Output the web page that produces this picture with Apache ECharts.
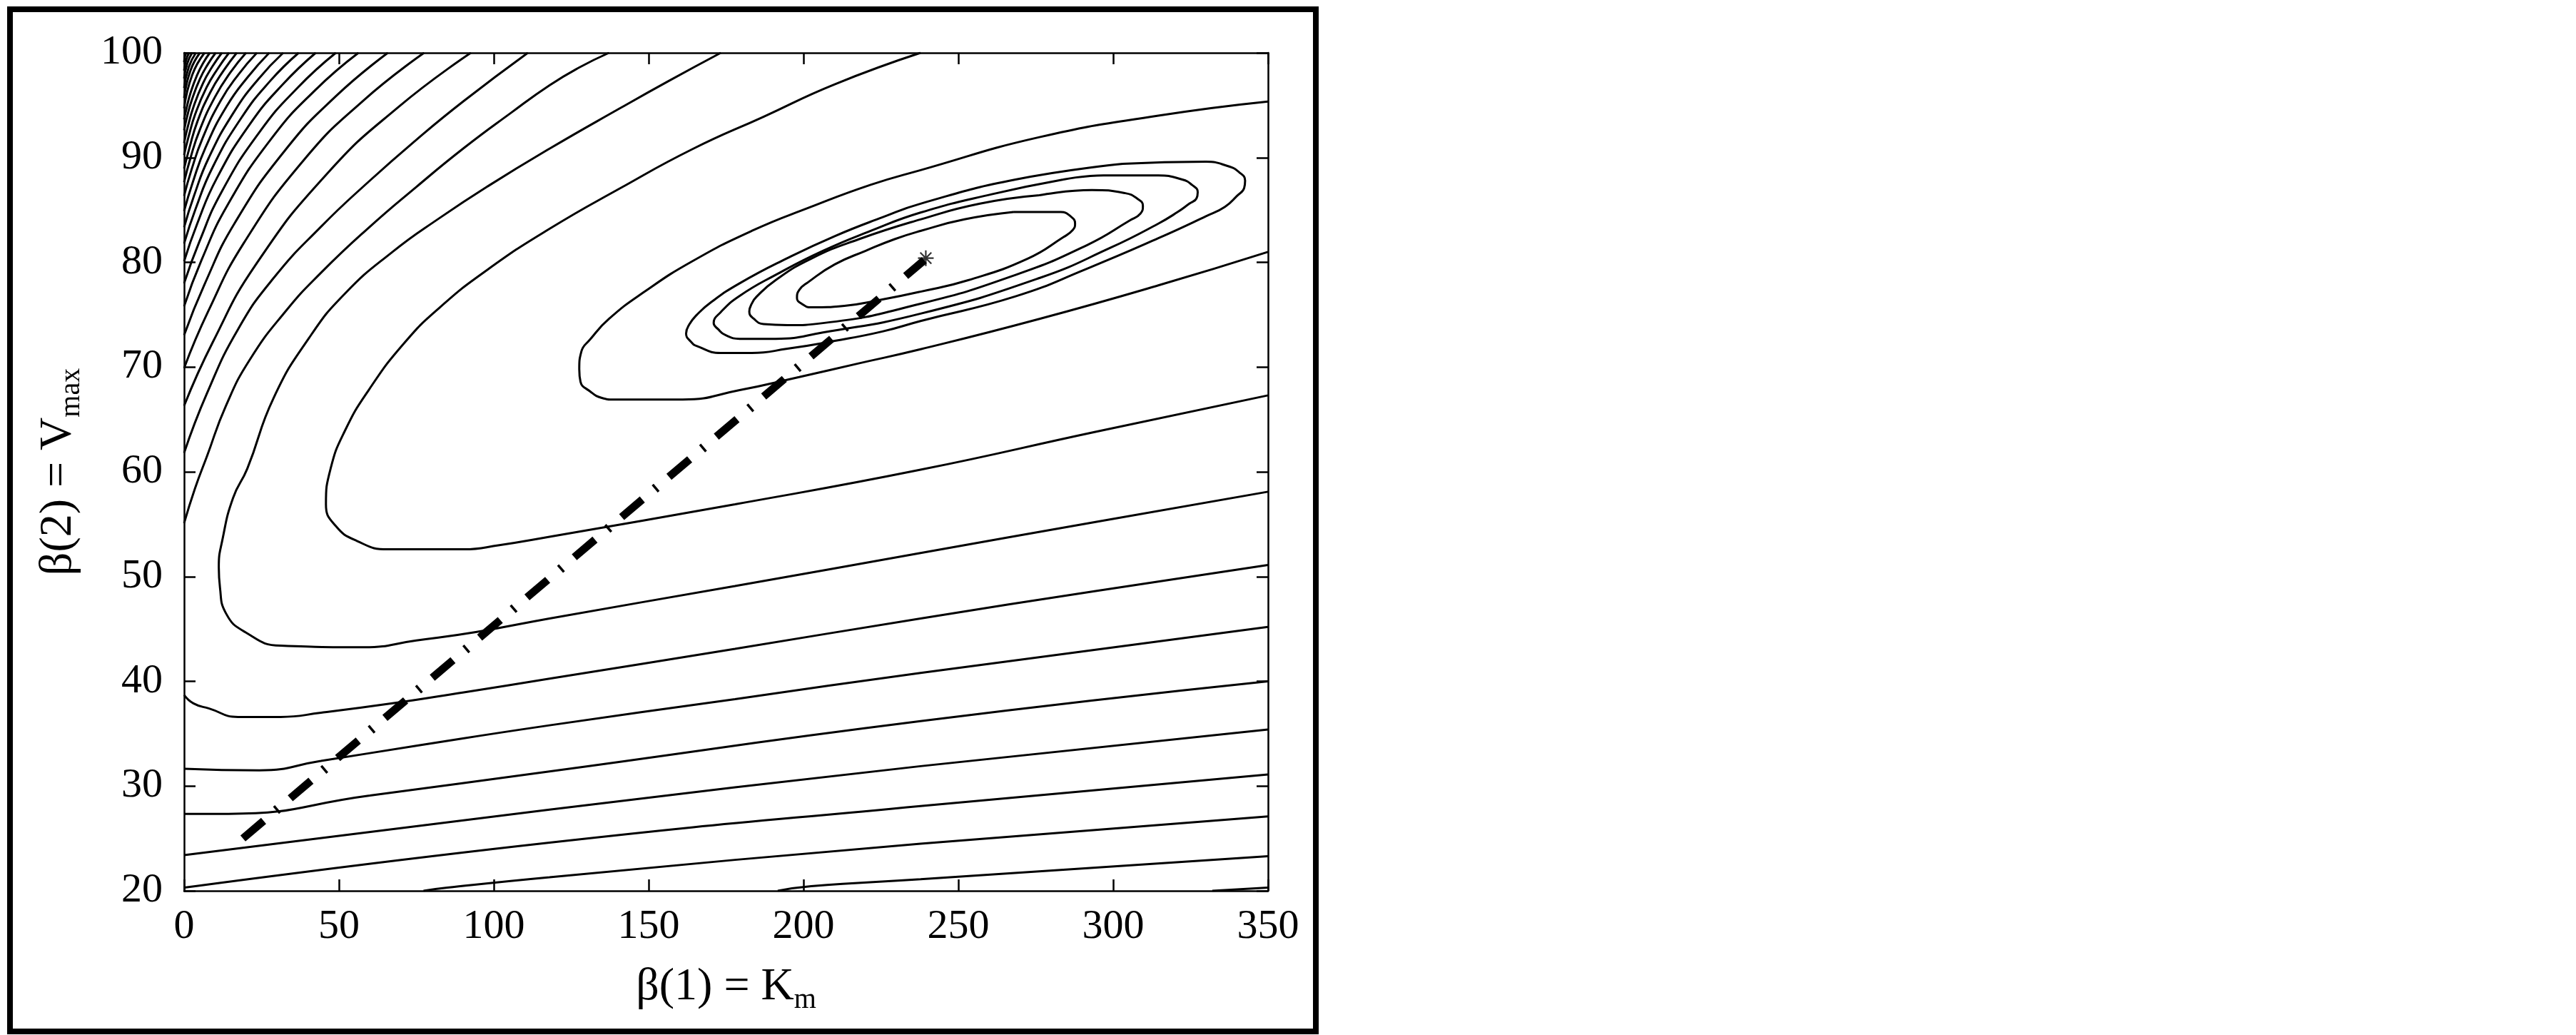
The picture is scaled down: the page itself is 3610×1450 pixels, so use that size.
<!DOCTYPE html>
<html>
<head>
<meta charset="utf-8">
<title>contour</title>
<script src="https://cdn.jsdelivr.net/npm/echarts@6/dist/echarts.min.js"></script>
<style>
    html, body { margin: 0; padding: 0; background: #fff; }
    #chart { width: 3610px; height: 1450px; }
</style>
</head>
<body>
<div id="chart"></div>
<script>
var xRange = [0, 350];
var yRange = [20, 100];
var xStep = 50;
var yStep = 10;

// closed contours round the minimum
var ellipse1 = [[267.8,84.8],[283.1,84.8],[286.2,84.4],[287.7,83.7],[287,83.1],[283.9,82.4],[272.4,80.35],[253.2,78.3],[237.8,77.2],[225.5,76.45],[213.2,75.85],[202.5,75.7],[199.4,76.05],[197.9,76.6],[198.6,77.35],[201.5,78.1],[210.1,79.8],[220.1,81.1],[229.3,82.2],[237.8,83.0],[252,84.1],[267.8,84.8]];
var ellipse2 = [[276.2,86.4],[293.1,86.9],[303.9,86.6],[307.7,86.1],[309.6,85.4],[308.8,84.65],[305.4,84.0],[291.6,81.65],[268.5,78.8],[237.8,76.05],[206.3,74.2],[194.8,74.0],[187.1,74.1],[184,74.6],[182.5,75.3],[183.3,76.05],[184.8,76.7],[191,78.3],[202.5,80.35],[217.8,82.2],[237.8,84.1],[257,85.6],[276.2,86.4]];
var ellipse3 = [[283.9,87.9],[296.9,88.3],[314.6,88.3],[322.3,87.9],[325.4,87.4],[327.3,86.7],[326.9,86.1],[324.6,85.6],[320.8,84.8],[314.6,83.7],[299.2,81.4],[276.2,78.5],[237.8,75.1],[206.3,73.3],[191,72.7],[179.4,72.7],[174.8,73.05],[172.5,73.6],[171,74.2],[173.3,75.25],[179.4,76.8],[191,78.8],[206.3,81.1],[221.7,83.0],[237.8,84.75],[260.8,86.5],[283.9,87.9]];
var ellipse4 = [[303.1,89.4],[330,89.6],[336.9,89.2],[340.7,88.6],[342.6,87.8],[342.3,87.1],[340,86.35],[336.1,85.3],[330,84.4],[314.6,82.3],[291.6,79.4],[268.5,76.75],[237.8,74.4],[225.5,73.4],[210.1,72.5],[194.8,71.75],[183.3,71.35],[173.3,71.35],[165.6,72.0],[163.7,72.4],[162.1,73.2],[163.2,74.1],[165.6,75.0],[170.2,76.2],[179.4,78.0],[194.8,80.4],[210.1,82.5],[225.5,84.3],[237.8,85.6],[268.5,87.9],[303.1,89.4]];

// open contours
var contourA = [[350,95.35],[314.6,94.0],[276.2,91.95],[237.8,88.8],[221.7,87.4],[202.5,85.3],[183.3,83.0],[164.1,80.1],[148.7,77.2],[137.2,74.6],[131,72.6],[128.3,71.5],[127.6,69.8],[128,68.6],[131,67.7],[134.9,67.05],[138.7,66.9],[161,66.9],[179.4,67.8],[198.6,69.05],[217.8,70.35],[237.8,71.7],[276.2,74.6],[314.6,77.8],[350,81.0]];
var contourB = [[237.8,100],[210.1,97.0],[187.1,93.9],[164.1,90.8],[141,87.1],[118,83.2],[98,79.3],[82.6,75.7],[71.1,72.3],[59.6,67.8],[51.9,63.9],[47.3,60.3],[45.8,56.9],[48.9,54.85],[55.8,53.4],[65.8,52.6],[90.3,52.6],[101.8,53.0],[118,53.8],[177.9,56.9],[237.8,60.2],[294,63.8],[350,67.3]];
var contourC = [[173.3,100],[156.4,97.3],[141,94.75],[118,90.85],[98,87.25],[82.6,84.25],[67.3,81.0],[51.9,77.0],[40.4,72.8],[28.9,67.05],[20.4,60.3],[15.8,57.5],[12.4,53.55],[11.2,50.9],[11.6,48.9],[13.5,46.5],[19.7,44.7],[31.2,43.4],[58.1,43.25],[75,43.9],[94.2,44.7],[118,46.0],[177.9,49.1],[237.8,52.25],[294,55.2],[350,58.1]];
var contourDUpper = [[0,55.1],[3.5,58.4],[7.4,61.5],[13.5,66.3],[21.2,70.7],[32.7,75.3],[44.2,79.0],[59.6,83.3],[75,87.2],[90.3,90.9],[105.7,94.3],[118,96.9],[127.6,98.6],[137.2,100]];
var contourDLower = [[0,38.7],[3,37.9],[8.1,37.4],[17.4,36.6],[31.2,36.6],[44.2,37.0],[67.3,37.9],[90.3,38.95],[118,40.25],[177.9,43.1],[237.8,46.0],[294,48.6],[350,51.1]];

// near-straight contours in the lower half
var line4 = [[0,31.65],[24.3,31.5],[44.2,32.4],[75,33.85],[118,35.8],[177.9,38.3],[237.8,40.8],[350,45.2]];
var line5 = [[0,27.35],[14.3,27.35],[60,29.1],[118,31.4],[237.8,36.2],[350,40.0]];
var line6 = [[0,23.4],[118,27.75],[237.8,31.9],[350,35.4]];
var line7 = [[0,20.3],[118,24.6],[237.8,28.1],[350,31.1]];
var line8 = [[77.3,20.0],[85,20.3],[118,21.3],[237.8,24.5],[350,27.1]];
var line9 = [[191.7,20.0],[202.5,20.45],[237.8,21.1],[350,23.3]];
var line10 = [[332,20.0],[350,20.3]];

// dense contours in the top left corner
var cornerE = [[0,61.8],[7.4,67.5],[17.4,73.6],[28.9,78.5],[44.2,83.4],[59.6,87.7],[75,91.7],[90.3,95.4],[111,100]];
var cornerF = [[0,66.3],[9.3,72.4],[23.2,79.8],[46.3,88.5],[69.5,94.9],[92.6,100]];
var cornerG = [[0,69.9],[7.75,75.3],[19.4,81.9],[38.75,89.8],[58.1,95.5],[77.5,100]];
var cornerH = [[0,73.05],[6.6,77.9],[16.45,83.8],[32.9,90.8],[49.35,95.95],[65.8,100]];
var cornerI = [[0,75.8],[5.6,80.2],[14.1,85.5],[28.15,91.8],[42.2,96.4],[56.3,100]];
var cornerJ = [[0,78],[4.9,81.95],[12.25,86.8],[24.5,92.5],[36.75,96.7],[49,100]];
var cornerK = [[0,80.1],[4.25,83.7],[10.6,88.05],[21.25,93.2],[31.9,97.0],[42.5,100]];
var cornerL = [[0,81.8],[3.7,85.1],[9.25,89.1],[18.5,93.8],[27.75,97.3],[37,100]];
var cornerM = [[0,83.35],[3.2,86.35],[8,90.0],[16,94.3],[24,97.5],[32,100]];
var cornerN = [[0,84.9],[2.75,87.6],[6.9,90.95],[13.75,94.9],[20.6,97.7],[27.5,100]];
var cornerO = [[0,86.35],[2.35,88.8],[5.9,91.8],[11.75,95.4],[17.6,97.95],[23.5,100]];
var cornerP = [[0,87.65],[2,89.9],[5,92.6],[10,95.8],[15,98.15],[20,100]];
var cornerQ = [[0,88.95],[1.7,90.9],[4.25,93.4],[8.5,96.25],[12.75,98.3],[17,100]];
var cornerR = [[0,90.25],[1.45,92.0],[3.6,94.15],[7.25,96.7],[10.9,98.5],[14.5,100]];
var cornerS = [[0,91.4],[1.2,92.95],[3.05,94.85],[6.1,97.1],[9.15,98.7],[12.2,100]];
var cornerT = [[0,92.6],[1.0,93.95],[2.55,95.55],[5.1,97.5],[7.65,98.9],[10.2,100]];
var cornerU = [[0,93.65],[0.85,94.8],[2.1,96.2],[4.15,97.85],[6.2,99.05],[8.3,100]];
var cornerV = [[0,94.7],[2.64,97.9],[6.6,100]];
var cornerW = [[0,95.7],[2.04,98.3],[5.1,100]];
var cornerX = [[0,96.65],[1.52,98.65],[3.8,100]];
var cornerY = [[0,97.56],[1.04,99.0],[2.6,100]];
var cornerZ = [[0,98.3],[0.64,99.3],[1.6,100]];
var cornerZZ = [[0,99.1],[0.28,99.65],[0.7,100]];

// search path and the fitted point
var searchPath = [[19,25],[239,80.2]];
var bestFit = [[239.5,80.4]];

var contourLines = [ellipse1, ellipse2, ellipse3, ellipse4, contourA, contourB, contourC,
    contourDUpper, contourDLower, line4, line5, line6, line7, line8, line9, line10,
    cornerE, cornerF, cornerG, cornerH, cornerI, cornerJ, cornerK, cornerL, cornerM, cornerN,
    cornerO, cornerP, cornerQ, cornerR, cornerS, cornerT, cornerU, cornerV, cornerW, cornerX,
    cornerY, cornerZ, cornerZZ];

var serif = 'Liberation Serif';

function makeAxis(pos, isX, withLabels) {
    var axis = {
        type: 'value',
        position: pos,
        min: isX ? xRange[0] : yRange[0],
        max: isX ? xRange[1] : yRange[1],
        interval: isX ? xStep : yStep,
        axisLine: { show: true, onZero: false, lineStyle: { color: '#000', width: 2.5 } },
        axisTick: { show: true, inside: true, length: 16, lineStyle: { color: '#000', width: 2.5 } },
        splitLine: { show: false },
        axisLabel: { show: withLabels, margin: isX ? 22 : 30, color: '#000', fontFamily: serif, fontSize: 58 }
    };
    return axis;
}

var nameStyle = {
    color: '#000', fontFamily: serif, fontSize: 64,
    rich: {
        a: { color: '#000', fontFamily: serif, fontSize: 64 },
        b: { color: '#000', fontFamily: serif, fontSize: 40, padding: [36, 0, 0, 0] }
    }
};

var xMain = makeAxis('bottom', true, true);
xMain.name = '{a|β(1) = K}{b|m}';
xMain.nameLocation = 'middle';
xMain.nameGap = 97;
xMain.nameTextStyle = nameStyle;

var yMain = makeAxis('left', false, true);
yMain.name = '{a|β(2) = V}{b|max}';
yMain.nameLocation = 'middle';
yMain.nameRotate = 90;
yMain.nameGap = 138;
yMain.nameTextStyle = nameStyle;

var series = [];
for (var i = 0; i < contourLines.length; i++) {
    series.push({
        type: 'line',
        data: contourLines[i],
        xAxisIndex: 0,
        yAxisIndex: 0,
        showSymbol: false,
        smooth: 0.5,
        silent: true,
        z: 2,
        lineStyle: { color: '#000', width: 3 }
    });
}

// thick dashes
series.push({
    type: 'line',
    data: searchPath,
    showSymbol: false,
    silent: true,
    z: 4,
    lineStyle: { color: '#000', width: 11, type: [38, 49], cap: 'butt' }
});
// short cross marks between the dashes
series.push({
    type: 'line',
    data: searchPath,
    showSymbol: false,
    silent: true,
    z: 4,
    lineStyle: { color: '#000', width: 13, type: [3.5, 83.5], dashOffset: 26.25, cap: 'butt' }
});
series.push({
    type: 'scatter',
    data: bestFit,
    symbol: 'path://M9,0H11V20H9Z M0,9H20V11H0Z M2.2,3.6L3.6,2.2L17.8,16.4L16.4,17.8Z M16.4,2.2L17.8,3.6L3.6,17.8L2.2,16.4Z',
    symbolSize: 22,
    silent: true,
    z: 5,
    itemStyle: { color: '#000' }
});

var option = {
    backgroundColor: '#FFFFFF',
    animation: false,
    grid: { left: 258, top: 74, width: 1519, height: 1174, containLabel: false },
    xAxis: [xMain, makeAxis('top', true, false)],
    yAxis: [yMain, makeAxis('right', false, false)],
    graphic: [{
        type: 'rect',
        shape: { x: 14, y: 13, width: 1830, height: 1432 },
        style: { fill: 'none', stroke: '#000', lineWidth: 8 },
        silent: true
    }],
    series: series
};

var myChart = echarts.init(document.getElementById('chart'));
myChart.setOption(option);
</script>
</body>
</html>
